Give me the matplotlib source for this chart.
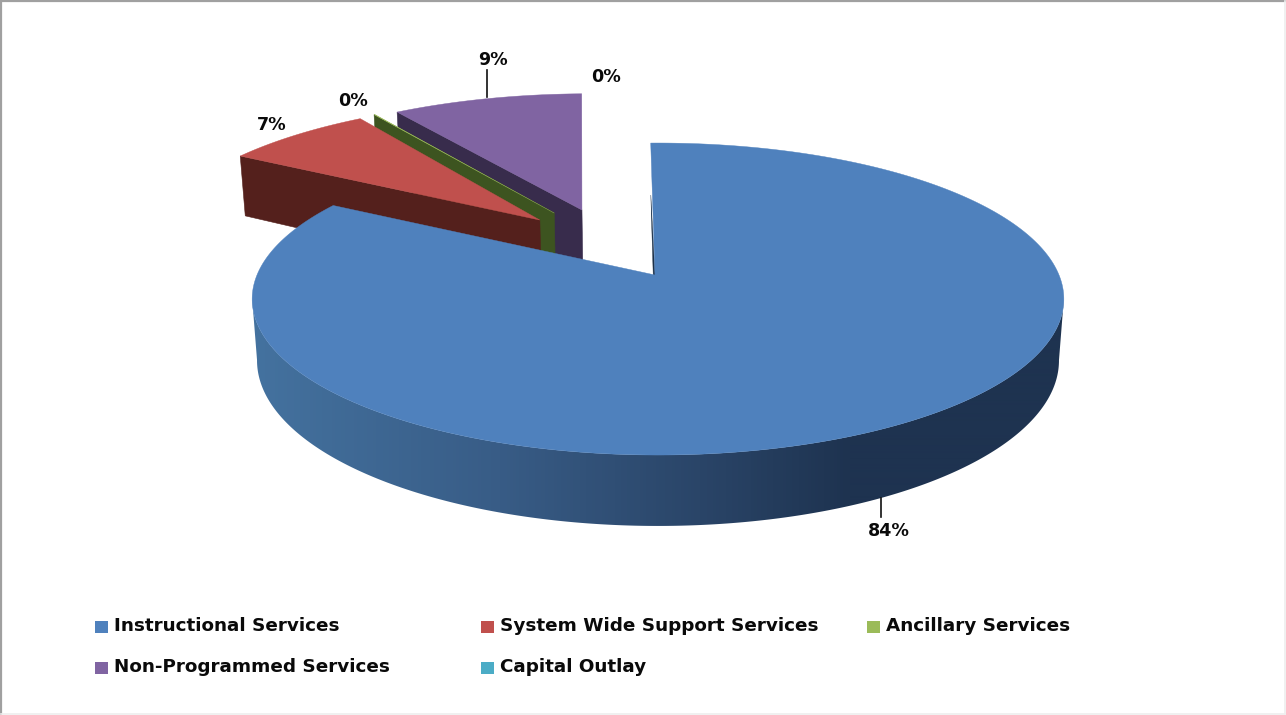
import numpy as np
import matplotlib
matplotlib.use("Agg")
import matplotlib.pyplot as plt
from matplotlib.colors import LinearSegmentedColormap
from matplotlib.patches import Polygon, Rectangle

# Budget shares, in percent
categories = ["Instructional Services", "System Wide Support Services", "Ancillary Services",
              "Non-Programmed Services", "Capital Outlay"]
shares = [83.5, 7.2, 0.04, 9.26, 0.0]

top_colors = ["#4f81bd", "#c0504d", "#9bbb59", "#8064a2", "#4bacc6"]
cut_colors = ["#1c3048", "#54201c", "#3d5420", "#382c4c", "#1e4a58"]

# Perspective model of the tilted pie
CENTER = (658.0, 275.0)
SCALE_X, SCALE_Y, TILT = 401.0, 152.3, 0.154
DEPTH = 60.0
REAR_DEPTH = 68.0
BASE_SHRINK = 0.988
START_ANGLE = -1.2
# Displacement of each slice on the pie's plane: rim and tip
rim_shift = [(0.0, 0.0), (-0.313, 0.397), (-0.276, 0.434), (-0.212, 0.457), (-0.212, 0.457)]
tip_shift = [(-0.0075, 0.0), (-0.312, 0.382), (-0.276, 0.434), (-0.203, 0.457), (-0.203, 0.457)]


def project(x, y, lower=False, depth=DEPTH):
    """Map plane coordinates of the unit pie to figure pixels."""
    w = 1 + TILT * y
    u = SCALE_X * x / w
    v = SCALE_Y * y / w
    if lower:
        return CENTER[0] + u * BASE_SHRINK, CENTER[1] - v + depth / w
    return CENTER[0] + u, CENTER[1] - v


def slice_outline(a0, a1, rim, tip, lower=False, depth=DEPTH):
    a = np.radians(np.linspace(a0, a1, max(int(abs(a1 - a0) * 2), 2)))
    xs = np.concatenate([[tip[0]], rim[0] + np.sin(a)])
    ys = np.concatenate([[tip[1]], rim[1] + np.cos(a)])
    px, py = project(xs, ys, lower, depth)
    return np.column_stack([px, py])


def cut_face(angle, rim, tip, depth=DEPTH):
    p = slice_outline(angle, angle + 0.001, rim, tip)[:2]
    q = slice_outline(angle, angle + 0.001, rim, tip, lower=True, depth=depth)[:2]
    return np.vstack([p, q[::-1]])


fig = plt.figure(figsize=(12.86, 7.15), dpi=100, facecolor="white")
ax = fig.add_axes([0, 0, 1, 1])
ax.set_xlim(0, 1286)
ax.set_ylim(715, 0)
ax.axis("off")

edges = START_ANGLE + np.cumsum([0] + shares) * 3.6
spans = list(zip(edges[:-1], edges[1:]))

# Rear slices first so that nearer ones paint over them
for i in (3, 2, 1):
    a0, a1 = spans[i]
    ax.add_patch(Polygon(cut_face(a0, rim_shift[i], tip_shift[i], REAR_DEPTH), closed=True,
                         fc=cut_colors[i], ec=cut_colors[i], lw=0.4))
    ax.add_patch(Polygon(slice_outline(a0, a1, rim_shift[i], tip_shift[i]), closed=True,
                         fc=top_colors[i], ec=top_colors[i], lw=0.3))

# Outer wall of the main slice, shaded from left to right; only the front half shows
a0, a1 = spans[0]
wall_angles = np.radians(np.linspace(a0, a1, 900))
tx, ty = project(np.sin(wall_angles), np.cos(wall_angles))
bx, by = project(np.sin(wall_angles), np.cos(wall_angles), lower=True)
front = np.arange(np.argmax(tx), np.argmin(tx) + 1)
wall = Polygon(np.column_stack([np.r_[tx[front], bx[front][::-1]], np.r_[ty[front], by[front][::-1]]]),
               closed=True, fc="none", ec="none", transform=ax.transData)
ax.add_patch(wall)
stops_x = np.array([252, 500, 700, 850, 1066])
wall_cmap = LinearSegmentedColormap.from_list(
    "wall", list(zip((stops_x - 252) / (1066 - 252), ["#44729f", "#385c86", "#2a4568", "#1e3350", "#1e3350"])))
gradient = ax.imshow(np.linspace(0, 1, 814)[None, :], cmap=wall_cmap, aspect="auto",
                     extent=(252, 1066, 540, 130), zorder=1.5, interpolation="bilinear")
gradient.set_clip_path(wall)
ax.set_xlim(0, 1286)
ax.set_ylim(715, 0)

# Sliver of the main slice's cut face seen beside its first edge
ax.add_patch(Polygon(cut_face(a0, rim_shift[0], tip_shift[0])[[0, 2, 3]], closed=True,
                     fc=cut_colors[0], ec=cut_colors[0], lw=0.3, zorder=1.6))
ax.add_patch(Polygon(slice_outline(a0, a1, rim_shift[0], tip_shift[0]), closed=True,
                     fc=top_colors[0], ec=top_colors[0], lw=0.3, zorder=1.7))

# Percentage labels and their leader lines
label_font = dict(family="DejaVu Sans", fontweight="bold", fontsize=12.6, color="#0a0a0a",
                  ha="center", va="center", zorder=3)
label_pos = [(889, 531), (272, 125), (353, 101), (493, 60), (606, 77)]
for share, pos in zip(shares, label_pos):
    ax.text(*pos, f"{share:.0f}%", **label_font)
ax.plot([881, 881], [498, 517], color="#111111", lw=1.2, zorder=3)
ax.plot([487, 487], [70, 97], color="#111111", lw=1.2, zorder=3)

# Legend laid out row by row
legend_pos = [(95, 627), (481, 627), (867, 627), (95, 668), (481, 668)]
for name, color, (x, y) in zip(categories, top_colors, legend_pos):
    ax.add_patch(Rectangle((x, y - 6), 13, 12, fc=color, ec="none", zorder=3))
    ax.text(x + 19, y - 1, name, family="DejaVu Sans", fontweight="bold", fontsize=13.2,
            color="#0a0a0a", ha="left", va="center", zorder=3)

# Chart frame
ax.plot([1, 1285], [1, 1], color="#a0a0a0", lw=1.6, clip_on=False, zorder=3)
ax.plot([1, 1], [1, 714], color="#a0a0a0", lw=1.6, clip_on=False, zorder=3)
ax.plot([1285, 1285], [1, 714], color="#eeeeee", lw=1.2, clip_on=False, zorder=3)
ax.plot([1, 1285], [714, 714], color="#eeeeee", lw=1.2, clip_on=False, zorder=3)

fig.savefig("out.png", dpi=100)
